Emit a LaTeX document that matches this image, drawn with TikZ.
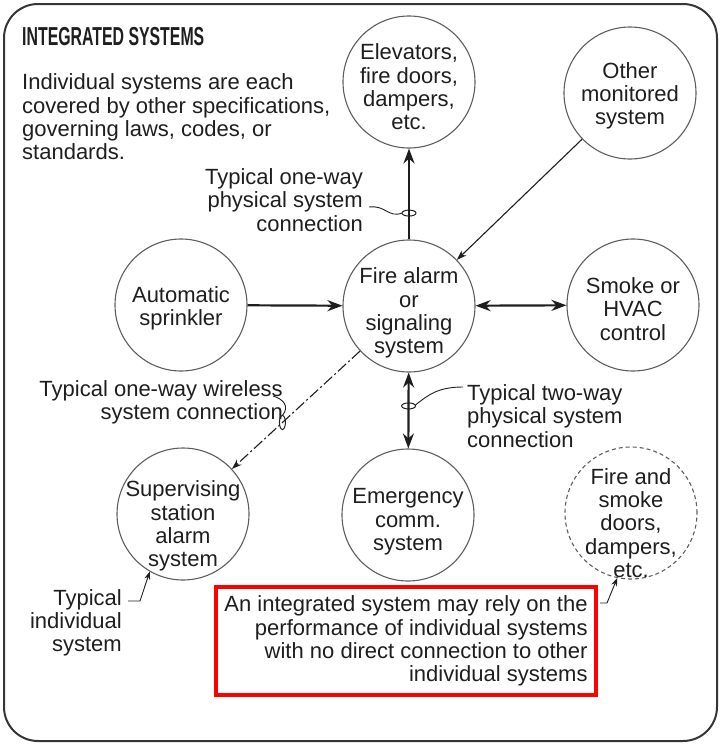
\documentclass[tikz,border=0pt]{standalone}
\usepackage{fontspec}
\setmainfont{Liberation Sans}
\usetikzlibrary{calc, arrows.meta}

\definecolor{ink}{HTML}{1E1E1E}
\definecolor{rim}{HTML}{5E5E5E}

\tikzset{
	sys/.style={circle, draw=rim, line width=1.1pt, minimum size=132pt, inner sep=0pt},
	inside/.style={inner sep=0pt, align=center, text=ink},
	note/.style={inner sep=0pt, text=ink},
	link/.style={line width=2.2pt, draw=ink},
	feed/.style={line width=1.1pt, draw=ink, -{Stealth[length=10pt,width=7pt]}},
	wireless/.style={line width=1.1pt, draw=ink, dash pattern=on 11pt off 3pt on 2pt off 3pt, -{Stealth[length=10pt,width=7pt]}},
	lead/.style={line width=0.9pt, draw=ink},
	tie/.style={line width=1pt, draw=ink}
}

\begin{document}
\begin{tikzpicture}[x=1pt, y=-1pt, font=\fontsize{22}{23.3}\selectfont, >={Stealth[length=15pt,width=11pt]}]
	\useasboundingbox (0,0) rectangle (721,745);
	\draw[rounded corners=34pt, line width=2pt, draw=ink!90] (4,4) rectangle (717,741);

	% heading and notes
	\node[note, anchor=west] (title) at (22,37) {\fontsize{26}{26}\selectfont\scalebox{0.61}[1]{\bfseries INTEGRATED SYSTEMS}};
	\node[note, anchor=west, align=left] (intro) at (22,117) {Individual systems are each\\covered by other specifications,\\governing laws, codes, or\\standards.};

	% individual systems
	\node[sys] (elev) at (409,82) {};
	\node[sys] (oth) at (630,93) {};
	\node[sys] (spr) at (181,305) {};
	\node[sys] (fa) at (409,306) {};
	\node[sys] (hvac) at (633,305) {};
	\node[sys] (sup) at (183,514) {};
	\node[sys] (emer) at (408,515) {};
	\node[sys, dash pattern=on 4pt off 3pt] (fsd) at (631,513) {};

	\node[inside] (elevText) at ($(elev)+(0,5)$) {Elevators,\\fire doors,\\dampers,\\etc.};
	\node[inside] (othText) at ($(oth)+(0,3)$) {Other\\monitored\\system};
	\node[inside] (sprText) at ($(spr)+(0,3)$) {Automatic\\sprinkler};
	\node[inside] (faText) at ($(fa)+(0,7)$) {Fire alarm\\or\\signaling\\system};
	\node[inside] (hvacText) at ($(hvac)+(0,4)$) {Smoke or\\HVAC\\control};
	\node[inside] (supText) at ($(sup)+(0,12)$) {Supervising\\station\\alarm\\system};
	\node[inside] (emerText) at ($(emer)+(0,7)$) {Emergency\\comm.\\system};
	\node[inside] (fsdText) at ($(fsd)+(0,10)$) {Fire and\\smoke\\doors,\\dampers,\\etc.};

	% connections
	\draw[link, ->] (fa) -- (elev);
	\draw[link, ->] (spr) -- (fa);
	\draw[link, <->] (fa) -- (hvac);
	\draw[link, <->] (fa) -- (emer);
	\draw[feed] (oth) -- (fa);
	\draw[wireless] (fa) -- (sup);

	% cable ties
	\coordinate (tieUp) at ($(fa.north)!0.29!(elev.south)$);
	\coordinate (tieDown) at ($(fa.south)!0.44!(emer.north)$);
	\coordinate (tieAir) at ($(fa)!0.56!(sup)$);
	\draw[tie] (tieUp) ellipse (7 and 3);
	\draw[tie] (tieDown) ellipse (7 and 3);
	\draw[tie] (tieAir) ellipse (3 and 7);

	% labels with leaders
	\node[note, anchor=east, align=right] (oneway) at (363,200) {Typical one-way\\physical system\\connection};
	\node[note, anchor=east, align=right] (air) at (283,402) {Typical one-way wireless\\system connection};
	\node[note, anchor=west, align=left] (twoway) at (467,416) {Typical two-way\\physical system\\connection};
	\node[note, anchor=east, align=right] (indiv) at (122,623) {Typical\\individual\\system};

	\coordinate (onewayTail) at (369,207);
	\coordinate (airTail) at (273,396);
	\coordinate (twowayTail) at (463,387);
	\coordinate (indivTail) at (128,601);

	\draw[lead] (onewayTail) .. controls (386,205) and (388,218) .. ($(tieUp)+(-7,0)$);
	\draw[lead] (airTail) .. controls (283,399) and (290,406) .. ($(tieAir)+(0,-7)$);
	\draw[lead] (twowayTail) .. controls (438,387) and (428,395) .. ($(tieDown)+(7,-1)$);
	\draw[lead, -{Stealth[length=8pt,width=6pt]}] (indivTail) -- ++(12,0) -- (sup.240);

	% remark
	\node[draw=red, line width=4pt, minimum width=380pt, minimum height=108pt, align=right, text=ink] (box) at (406,641) {An integrated system may rely on the\\performance of individual systems\\with no direct connection to other\\individual systems};
	\coordinate (boxTail) at (600,603);
	\draw[lead, -{Stealth[length=8pt,width=6pt]}] (boxTail) -- ++(7,0) -- (fsd.258);
\end{tikzpicture}
\end{document}
